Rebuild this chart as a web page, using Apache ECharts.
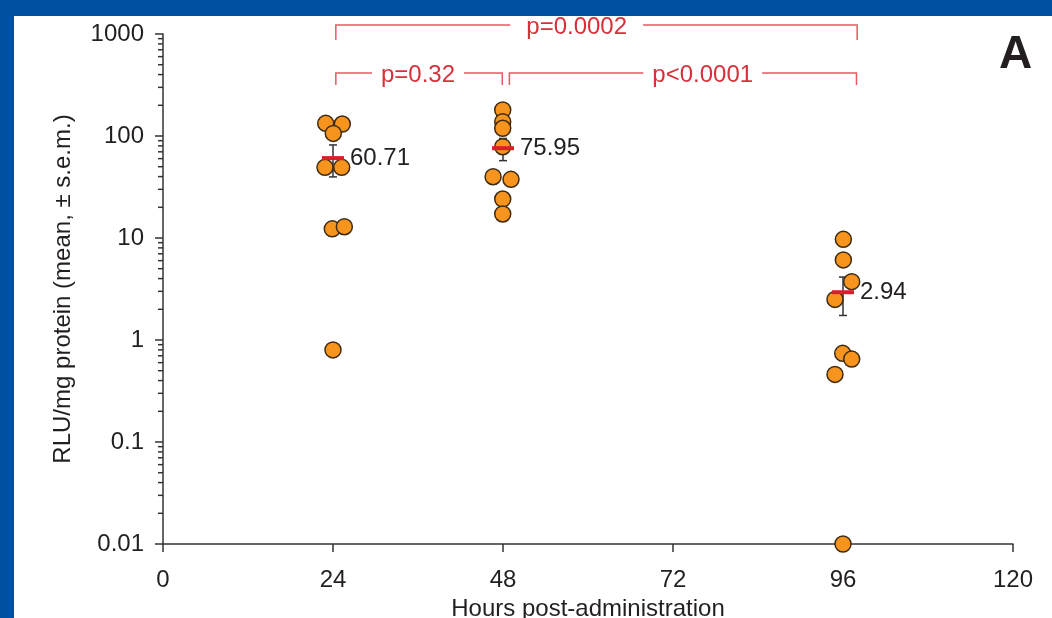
<!DOCTYPE html>
<html><head><meta charset="utf-8">
<script src="https://cdn.jsdelivr.net/npm/echarts@6/dist/echarts.min.js"></script>
<style>html,body{margin:0;padding:0;background:#fff}#c{width:1052px;height:618px}</style>
</head><body><div id="c"></div>
<script>
const xTickLabels = ['0', '24', '48', '72', '96', '120'];
const yTickLabels = ['0.01', '0.1', '1', '10', '100', '1000'];
const groupHours = [24, 48, 96];
const groupMeans = [60.71, 75.95, 2.94];
const groupSem = [21.0, 18.6, 1.2];
const hours24 = [22.97, 25.31, 24.04, 22.87, 25.23, 23.9, 25.6, 24.0];
const values24 = [133, 131, 106, 49.3, 49.3, 12.3, 12.9, 0.80];
const hours48 = [47.96, 47.96, 47.96, 47.96, 46.6, 49.13, 47.96, 47.96];
const values48 = [180, 138, 119, 78.5, 39.9, 37.6, 24.1, 17.2];
const hours96 = [96.05, 96.05, 97.23, 94.87, 95.96, 97.23, 94.87, 96.0];
const values96 = [9.7, 6.1, 3.73, 2.5, 0.74, 0.65, 0.46, 0.01];
const pLabels = ['p=0.0002', 'p=0.32', 'p<0.0001'];
const pFrom = [24.4, 24.4, 48.9];
const pTo = [98.0, 47.9, 97.9];
const pLabelAt = [58.4, 36.0, 76.2];
const pRow = [0, 1, 1];

const FONT = 'Liberation Sans, Arial, Helvetica, sans-serif';
const TXT = '#231f20';
const RED_TXT = '#d7303a';
const RED_LINE = '#e85862';

const points = [];
[[hours24, values24], [hours48, values48], [hours96, values96]].forEach(([hs, vs]) => {
  hs.forEach((h, i) => points.push([h, vs[i]]));
});

const minorVals = [];
for (let e = -2; e <= 2; e++) for (let k = 2; k <= 9; k++) minorVals.push([0, k * Math.pow(10, e)]);

const measureCtx = document.createElement('canvas').getContext('2d');
measureCtx.font = '24px ' + FONT;

const chart = echarts.init(document.getElementById('c'), null, {renderer: 'canvas'});
chart.setOption({
  animation: false,
  backgroundColor: '#ffffff',
  textStyle: {fontFamily: FONT},
  grid: {left: 163, right: 39, top: 34, bottom: 74, containLabel: false, outerBoundsMode: 'none'},
  xAxis: {
    type: 'value', min: 0, max: 120, interval: 24,
    name: 'Hours post-administration', nameLocation: 'middle', nameGap: 43,
    nameTextStyle: {fontSize: 24, color: TXT, fontFamily: FONT},
    axisLine: {lineStyle: {color: '#333', width: 1.5}},
    axisTick: {show: true, inside: false, length: 8, lineStyle: {color: '#333', width: 1.5}},
    axisLabel: {fontSize: 24, color: TXT, margin: 24, fontFamily: FONT,
      formatter: v => xTickLabels[Math.round(v / 24)]},
    splitLine: {show: false}
  },
  yAxis: {
    type: 'log', logBase: 10, min: 0.01, max: 1000,
    name: 'RLU/mg protein (mean, \u00b1 s.e.m.)', nameLocation: 'middle', nameGap: 88,
    nameTextStyle: {fontSize: 24, color: TXT, fontFamily: FONT},
    axisLine: {show: true, lineStyle: {color: '#333', width: 1.5}},
    axisTick: {show: true, inside: false, length: 8, lineStyle: {color: '#333', width: 1.5}},
    axisLabel: {fontSize: 24, color: TXT, margin: 19, fontFamily: FONT,
      formatter: v => yTickLabels[Math.round(Math.log10(v)) + 2]},
    splitLine: {show: false}
  },
  graphic: [
    {type: 'rect', left: 0, top: 0, shape: {x: 0, y: 0, width: 1052, height: 16}, style: {fill: '#0050a0'}, z: 100},
    {type: 'rect', left: 0, top: 0, shape: {x: 0, y: 0, width: 14, height: 618}, style: {fill: '#0050a0'}, z: 100},
    {type: 'text', x: 999, y: 55, style: {text: 'A', font: 'bold 46px ' + FONT, fill: TXT, textVerticalAlign: 'middle'}, z: 100}
  ],
  series: [
    {
      type: 'custom', name: 'minorTicks', z: 1, silent: true,
      data: minorVals,
      renderItem: (params, api) => {
        const p = api.coord([api.value(0), api.value(1)]);
        return {type: 'line', shape: {x1: p[0] - 5, y1: p[1], x2: p[0], y2: p[1]},
          style: {stroke: '#333', lineWidth: 1.5}};
      }
    },
    {
      type: 'custom', name: 'sem', z: 2, silent: true,
      data: groupHours.map((h, i) => [h, groupMeans[i], groupSem[i]]),
      renderItem: (params, api) => {
        const h = api.value(0), m = api.value(1), s = api.value(2);
        const t = api.coord([h, m + s]), b = api.coord([h, m - s]);
        const st = {stroke: '#333', lineWidth: 1.5};
        return {type: 'group', children: [
          {type: 'line', shape: {x1: t[0], y1: t[1], x2: b[0], y2: b[1]}, style: st},
          {type: 'line', shape: {x1: t[0] - 4, y1: t[1], x2: t[0] + 4, y2: t[1]}, style: st},
          {type: 'line', shape: {x1: b[0] - 4, y1: b[1], x2: b[0] + 4, y2: b[1]}, style: st}
        ]};
      }
    },
    {
      type: 'scatter', name: 'RLU', z: 3, clip: false,
      symbol: 'circle', symbolSize: 16,
      itemStyle: {color: '#f7941d', borderColor: '#3d2b12', borderWidth: 1.5, opacity: 1},
      data: points
    },
    {
      type: 'custom', name: 'means', z: 4, silent: true,
      data: groupHours.map((h, i) => [h, groupMeans[i]]),
      renderItem: (params, api) => {
        const c = api.coord([api.value(0), api.value(1)]);
        return {type: 'group', children: [
          {type: 'line', shape: {x1: c[0] - 11, y1: c[1], x2: c[0] + 11, y2: c[1]},
            style: {stroke: '#d9202a', lineWidth: 4}},
          {type: 'text', x: c[0] + 17, y: c[1],
            style: {text: api.value(1).toFixed(2), font: '24px ' + FONT, fill: TXT,
              textAlign: 'left', textVerticalAlign: 'middle'}}
        ]};
      }
    },
    {
      type: 'custom', name: 'brackets', z: 5, silent: true,
      data: pLabels.map((l, i) => [pFrom[i], pTo[i], pLabelAt[i], pRow[i], i]),
      renderItem: (params, api) => {
        const top = api.coord([0, 1000])[1];
        const row = api.value(3);
        const y = row === 0 ? top - 9 : top + 39;
        const tick = row === 0 ? 15 : 12;
        const x1 = api.coord([api.value(0), 1000])[0];
        const x2 = api.coord([api.value(1), 1000])[0];
        const tx = api.coord([api.value(2), 1000])[0];
        const label = pLabels[api.value(4)];
        const w = measureCtx.measureText(label).width;
        const gap = row === 0 ? 16 : 9;
        const st = {stroke: RED_LINE, lineWidth: 1.5};
        return {type: 'group', children: [
          {type: 'polyline', shape: {points: [[x1, y + tick], [x1, y], [tx - w / 2 - gap, y]]}, style: Object.assign({fill: null}, st)},
          {type: 'polyline', shape: {points: [[tx + w / 2 + gap, y], [x2, y], [x2, y + tick]]}, style: Object.assign({fill: null}, st)},
          {type: 'text', x: tx, y: y + 2, style: {text: label, font: '24px ' + FONT, fill: RED_TXT,
            textAlign: 'center', textVerticalAlign: 'middle'}}
        ]};
      }
    }
  ]
});
</script>
</body></html>
